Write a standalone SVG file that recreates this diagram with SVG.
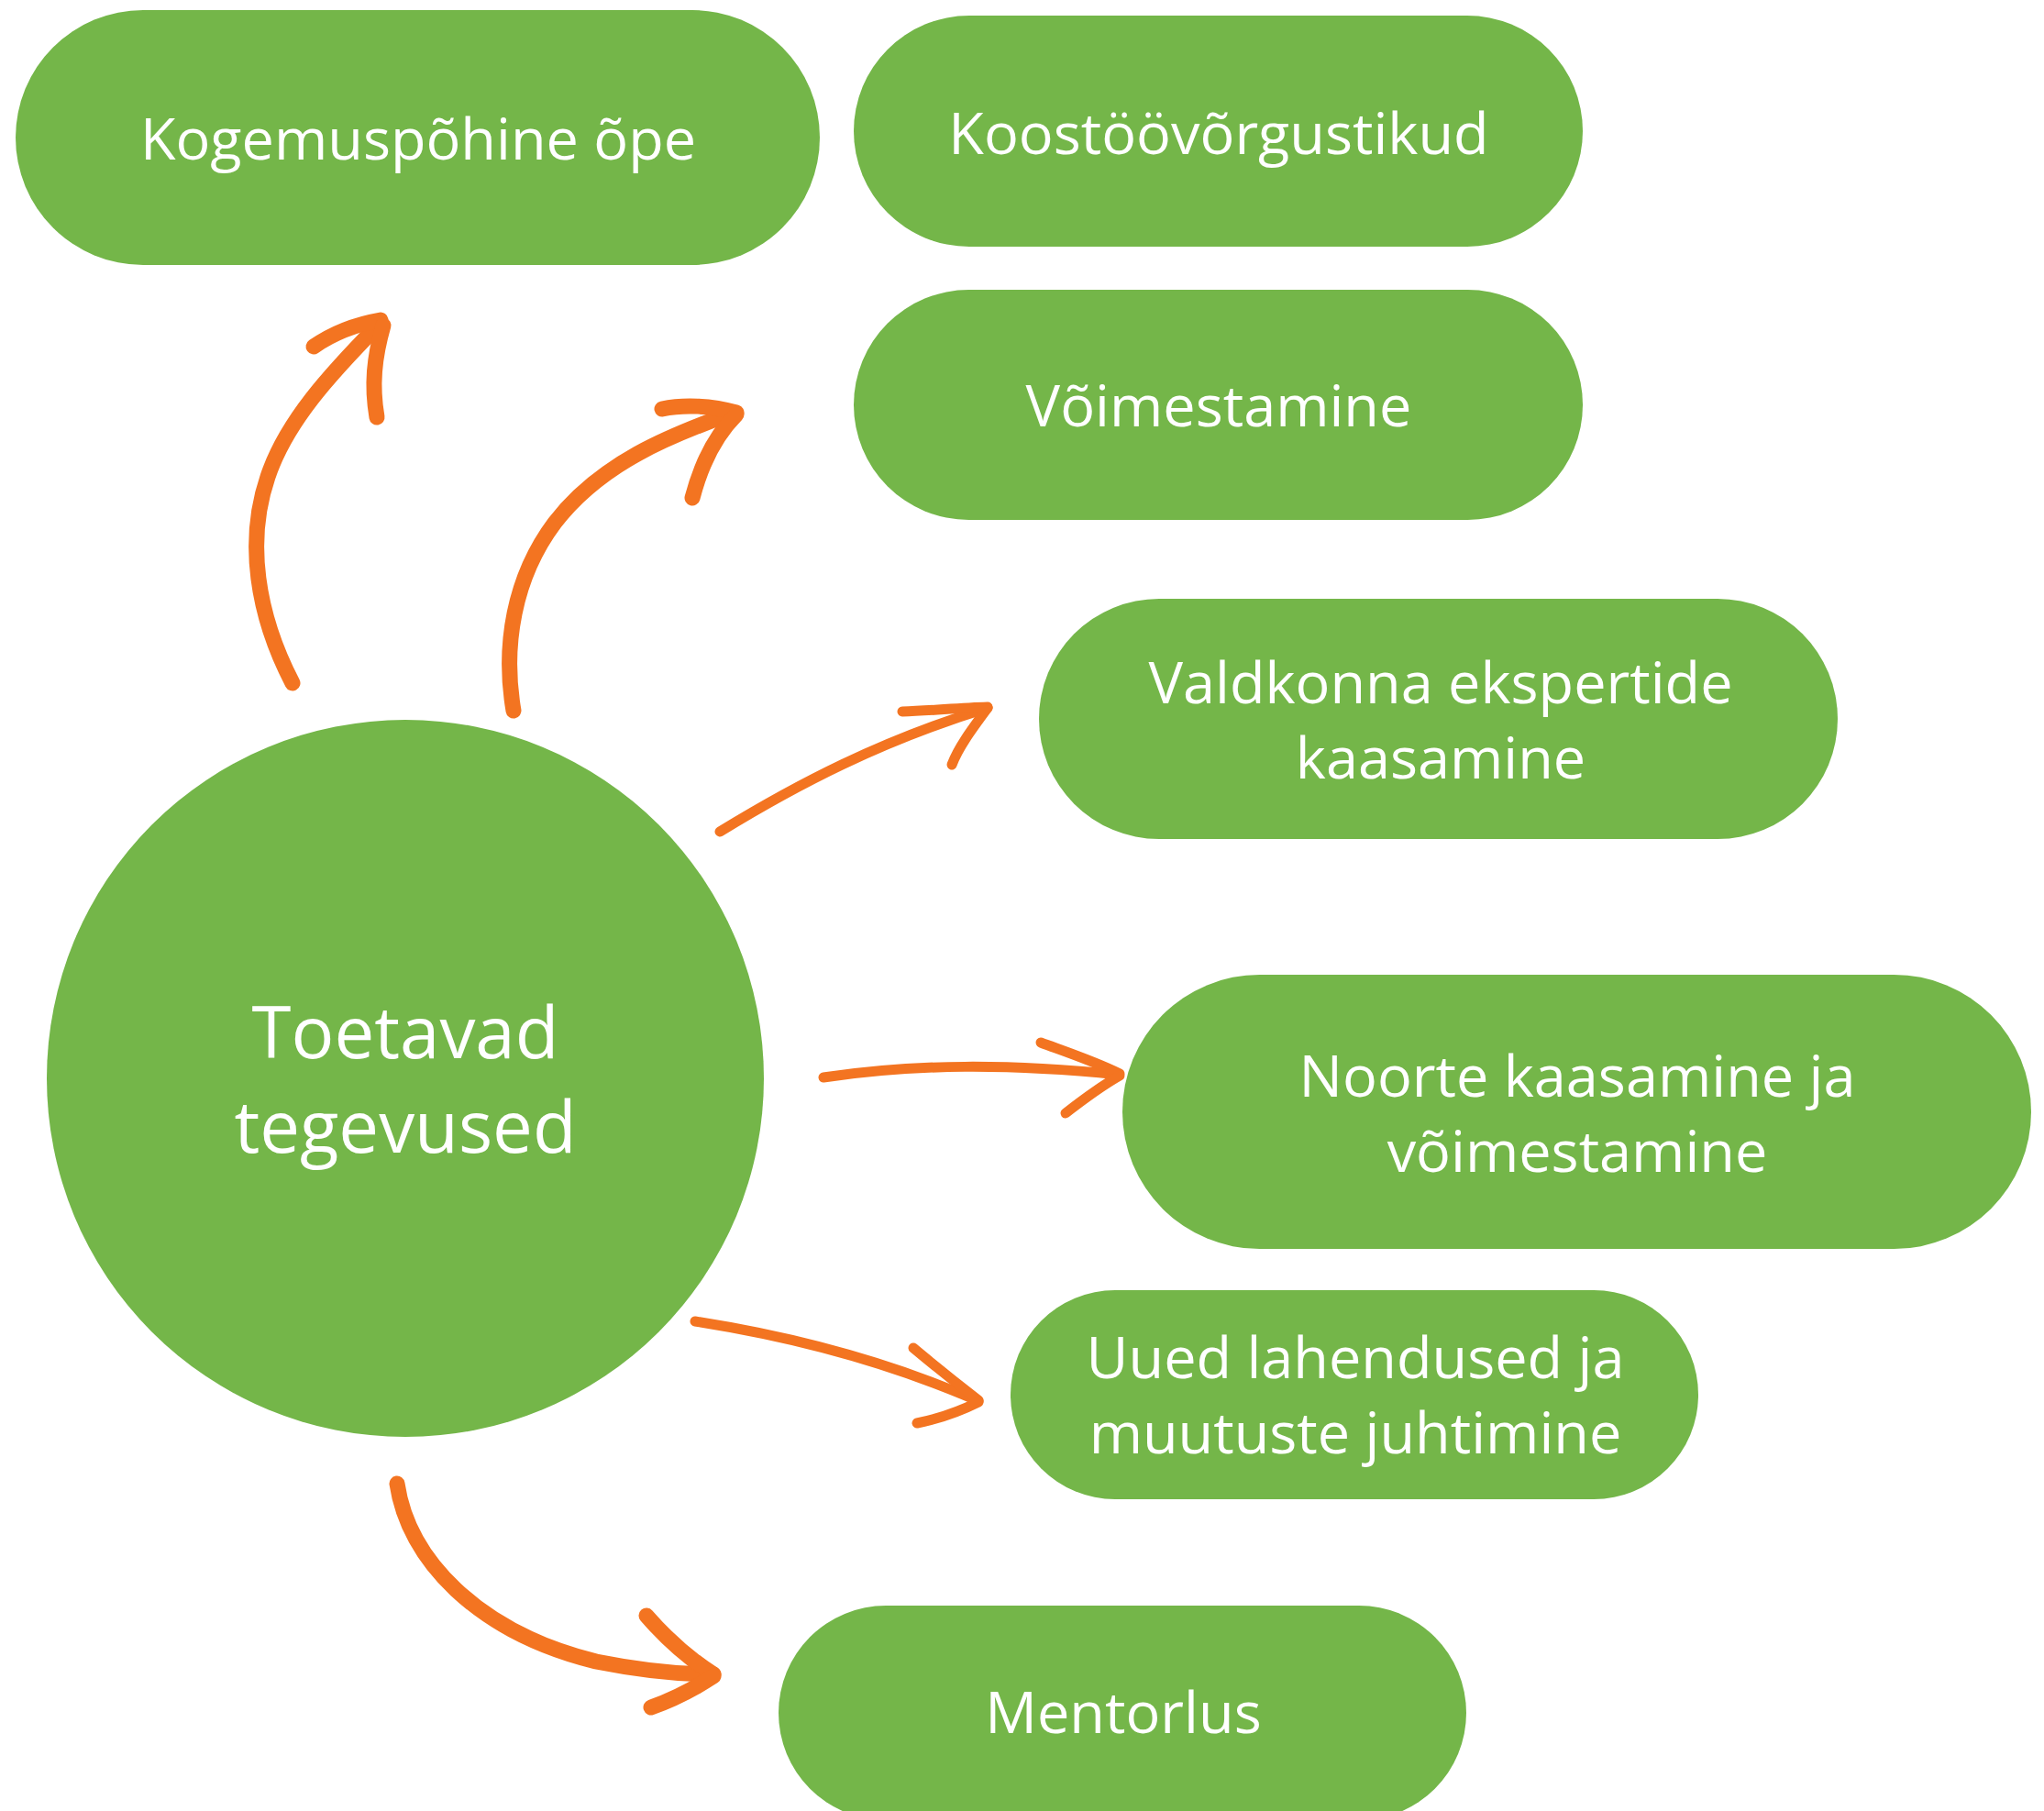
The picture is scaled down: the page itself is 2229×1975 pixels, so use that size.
<svg xmlns="http://www.w3.org/2000/svg" width="2229" height="1975" viewBox="0 0 2229 1975">
<style>
.node{fill:#74B649}
.t{font-family:"Open Sans","Noto Sans",sans-serif;fill:#ffffff;text-anchor:middle;font-size:63px}
.big{font-size:78px}
.arr{fill:none;stroke:#F37421;stroke-linecap:round;stroke-linejoin:round}
.thick{stroke-width:17}
.thin{stroke-width:11}
</style>
<rect width="2229" height="1975" fill="#ffffff"/>
<g id="node-center">
<circle class="node" cx="442" cy="1176" r="391"/>
<text class="t big" x="442" y="1154">Toetavad</text>
<text class="t big" x="442" y="1257">tegevused</text>
</g>
<g id="node-kogemus">
<rect class="node" x="17" y="11" width="877" height="278" rx="139"/>
<text class="t" x="456" y="174">Kogemuspõhine õpe</text>
</g>
<g id="node-koostoo">
<rect class="node" x="931" y="17" width="795" height="252" rx="126"/>
<text class="t" x="1329" y="168">Koostöövõrgustikud</text>
</g>
<g id="node-voimestamine">
<rect class="node" x="931" y="316" width="795" height="251" rx="125.5"/>
<text class="t" x="1329" y="465">Võimestamine</text>
</g>
<g id="node-valdkonna">
<rect class="node" x="1133" y="653" width="871" height="262" rx="131"/>
<text class="t" x="1571" y="767">Valdkonna ekspertide</text>
<text class="t" x="1571" y="849">kaasamine</text>
</g>
<g id="node-noorte">
<rect class="node" x="1224" y="1063" width="991" height="299" rx="149.5"/>
<text class="t" x="1720" y="1196">Noorte kaasamine ja</text>
<text class="t" x="1720" y="1278">võimestamine</text>
</g>
<g id="node-uued">
<rect class="node" x="1102" y="1407" width="750" height="228" rx="114"/>
<text class="t" x="1478" y="1503">Uued lahendused ja</text>
<text class="t" x="1478" y="1585">muutuste juhtimine</text>
</g>
<g id="node-mentorlus">
<rect class="node" x="849" y="1751" width="750" height="234" rx="117"/>
<text class="t" x="1225" y="1890">Mentorlus</text>
</g>
<g id="connectors">
<path class="arr thick" d="M319,745 C280,670 268,590 292,520 C312,460 360,408 413,354"/>
<path class="arr thick" d="M342,378 C365,362 392,353 415,349"/>
<path class="arr thick" d="M418,355 C408,390 405,420 411,455"/>
<path class="arr thick" d="M560,775 C548,705 560,630 605,570 C655,505 730,475 800,450"/>
<path class="arr thick" d="M722,446 C745,441 775,442 803,450"/>
<path class="arr thick" d="M803,452 C780,475 765,505 755,543"/>
<path class="arr thin" d="M785,907 C870,855 960,808 1077,772"/>
<path class="arr thin" d="M984,776 C1015,775 1045,772 1077,771"/>
<path class="arr thin" d="M1077,772 C1060,795 1045,815 1038,834"/>
<path class="arr thin" d="M898,1175 C1000,1160 1100,1160 1220,1172"/>
<path class="arr thin" d="M1135,1137 C1165,1148 1195,1158 1221,1171"/>
<path class="arr thin" d="M1221,1173 C1200,1185 1180,1200 1162,1214"/>
<path class="arr thin" d="M758,1441 C880,1460 980,1490 1067,1528"/>
<path class="arr thin" d="M996,1470 C1020,1490 1045,1510 1067,1527"/>
<path class="arr thin" d="M1067,1529 C1045,1540 1020,1548 1000,1552"/>
<path class="arr thick" d="M433,1618 C445,1700 520,1780 650,1812 C700,1822 740,1826 778,1826"/>
<path class="arr thick" d="M705,1762 C725,1785 750,1808 778,1826"/>
<path class="arr thick" d="M778,1828 C755,1843 730,1855 710,1862"/>
</g>
</svg>
